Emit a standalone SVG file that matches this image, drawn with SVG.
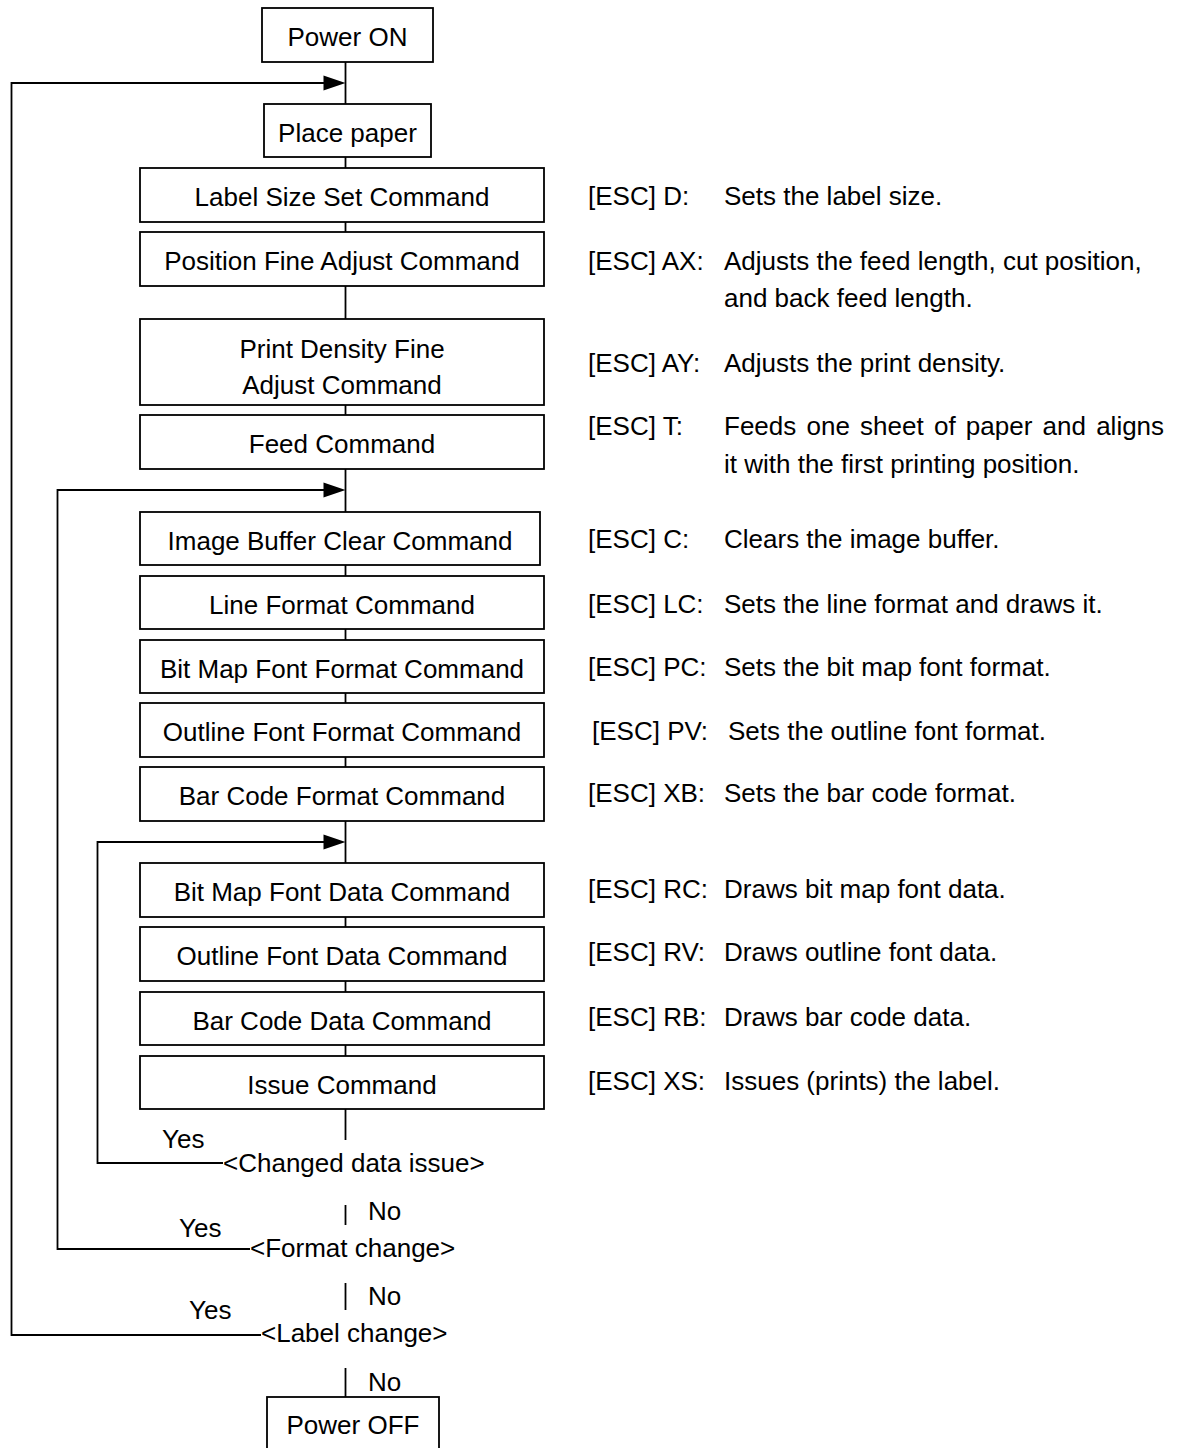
<svg xmlns="http://www.w3.org/2000/svg" width="1178" height="1448" viewBox="0 0 1178 1448">
  <style>
    .box { fill: #ffffff; stroke: #000000; stroke-width: 1.8; }
    .line { fill: none; stroke: #000000; stroke-width: 1.8; }
    .head { fill: #000000; stroke: none; }
    text { font-family: "Liberation Sans", Arial, sans-serif; font-size: 26px; fill: #000000; }
    .c { text-anchor: middle; }
  </style>
  <defs>
    <!-- arrowhead pointing right, tip at origin -->
    <path id="arrowhead" d="M0,0 L-22,-7.5 L-22,7.5 Z" class="head"/>
  </defs>

  <rect width="1178" height="1448" fill="#ffffff"/>

  <!-- connectors -->
  <g id="connectors">
    <!-- main flow spine -->
    <line class="line" x1="345.5" y1="62" x2="345.5" y2="104"/>
    <line class="line" x1="345.5" y1="157" x2="345.5" y2="168"/>
    <line class="line" x1="345.5" y1="222" x2="345.5" y2="232"/>
    <line class="line" x1="345.5" y1="286" x2="345.5" y2="319"/>
    <line class="line" x1="345.5" y1="405" x2="345.5" y2="415"/>
    <line class="line" x1="345.5" y1="469" x2="345.5" y2="512"/>
    <line class="line" x1="345.5" y1="565" x2="345.5" y2="576"/>
    <line class="line" x1="345.5" y1="629" x2="345.5" y2="640"/>
    <line class="line" x1="345.5" y1="693" x2="345.5" y2="703"/>
    <line class="line" x1="345.5" y1="757" x2="345.5" y2="767"/>
    <line class="line" x1="345.5" y1="821" x2="345.5" y2="863"/>
    <line class="line" x1="345.5" y1="917" x2="345.5" y2="927"/>
    <line class="line" x1="345.5" y1="981" x2="345.5" y2="992"/>
    <line class="line" x1="345.5" y1="1045" x2="345.5" y2="1056"/>
    <line class="line" x1="345.5" y1="1109" x2="345.5" y2="1140"/>
    <line class="line" x1="345.5" y1="1205" x2="345.5" y2="1225"/>
    <line class="line" x1="345.5" y1="1283" x2="345.5" y2="1310"/>
    <line class="line" x1="345.5" y1="1368" x2="345.5" y2="1397"/>

    <!-- label change loop -->
    <polyline class="line" points="261,1335 11.5,1335 11.5,83 330,83"/>
    <use href="#arrowhead" x="345.5" y="83"/>
    <!-- format change loop -->
    <polyline class="line" points="250,1249 57.5,1249 57.5,490 330,490"/>
    <use href="#arrowhead" x="345.5" y="490"/>
    <!-- changed data issue loop -->
    <polyline class="line" points="223,1163 97.5,1163 97.5,842 330,842"/>
    <use href="#arrowhead" x="345.5" y="842"/>
  </g>

  <!-- flow nodes -->
  <g id="power-on">
    <rect class="box" x="262" y="8" width="171" height="54"/>
    <text class="c" x="347.5" y="46">Power ON</text>
  </g>
  <g id="place-paper">
    <rect class="box" x="264" y="104" width="167" height="53"/>
    <text class="c" x="347.5" y="142">Place paper</text>
  </g>
  <g id="label-size">
    <rect class="box" x="140" y="168" width="404" height="54"/>
    <text class="c" x="342" y="206">Label Size Set Command</text>
  </g>
  <g id="position-adjust">
    <rect class="box" x="140" y="232" width="404" height="54"/>
    <text class="c" x="342" y="270">Position Fine Adjust Command</text>
  </g>
  <g id="density-adjust">
    <rect class="box" x="140" y="319" width="404" height="86"/>
    <text class="c" x="342" y="358">Print Density Fine</text>
    <text class="c" x="342" y="394">Adjust Command</text>
  </g>
  <g id="feed">
    <rect class="box" x="140" y="415" width="404" height="54"/>
    <text class="c" x="342" y="453">Feed Command</text>
  </g>
  <g id="buffer-clear">
    <rect class="box" x="140" y="512" width="400" height="53"/>
    <text class="c" x="340" y="550">Image Buffer Clear Command</text>
  </g>
  <g id="line-format">
    <rect class="box" x="140" y="576" width="404" height="53"/>
    <text class="c" x="342" y="614">Line Format Command</text>
  </g>
  <g id="bitmap-format">
    <rect class="box" x="140" y="640" width="404" height="53"/>
    <text class="c" x="342" y="678">Bit Map Font Format Command</text>
  </g>
  <g id="outline-format">
    <rect class="box" x="140" y="703" width="404" height="54"/>
    <text class="c" x="342" y="741">Outline Font Format Command</text>
  </g>
  <g id="barcode-format">
    <rect class="box" x="140" y="767" width="404" height="54"/>
    <text class="c" x="342" y="805">Bar Code Format Command</text>
  </g>
  <g id="bitmap-data">
    <rect class="box" x="140" y="863" width="404" height="54"/>
    <text class="c" x="342" y="901">Bit Map Font Data Command</text>
  </g>
  <g id="outline-data">
    <rect class="box" x="140" y="927" width="404" height="54"/>
    <text class="c" x="342" y="965">Outline Font Data Command</text>
  </g>
  <g id="barcode-data">
    <rect class="box" x="140" y="992" width="404" height="53"/>
    <text class="c" x="342" y="1030">Bar Code Data Command</text>
  </g>
  <g id="issue">
    <rect class="box" x="140" y="1056" width="404" height="53"/>
    <text class="c" x="342" y="1094">Issue Command</text>
  </g>

  <!-- decisions -->
  <g id="changed-data-issue">
    <text x="162" y="1148">Yes</text>
    <text x="223" y="1172">&lt;Changed data issue&gt;</text>
    <text x="368" y="1220">No</text>
  </g>
  <g id="format-change">
    <text x="179" y="1237">Yes</text>
    <text x="250" y="1257">&lt;Format change&gt;</text>
    <text x="368" y="1305">No</text>
  </g>
  <g id="label-change">
    <text x="189" y="1319">Yes</text>
    <text x="261" y="1342">&lt;Label change&gt;</text>
    <text x="368" y="1391">No</text>
  </g>

  <g id="power-off">
    <rect class="box" x="267" y="1397" width="172" height="70"/>
    <text class="c" x="353" y="1434">Power OFF</text>
  </g>

  <!-- command reference notes -->
  <g id="notes">
    <text x="588" y="205">[ESC] D:</text>
    <text x="724" y="205">Sets the label size.</text>
    <text x="588" y="270">[ESC] AX:</text>
    <text x="724" y="270">Adjusts the feed length, cut position,</text>
    <text x="724" y="307">and back feed length.</text>
    <text x="588" y="372">[ESC] AY:</text>
    <text x="724" y="372">Adjusts the print density.</text>
    <text x="588" y="435">[ESC] T:</text>
    <text x="724" y="435" word-spacing="3">Feeds one sheet of paper and aligns</text>
    <text x="724" y="473">it with the first printing position.</text>
    <text x="588" y="548">[ESC] C:</text>
    <text x="724" y="548">Clears the image buffer.</text>
    <text x="588" y="613">[ESC] LC:</text>
    <text x="724" y="613">Sets the line format and draws it.</text>
    <text x="588" y="676">[ESC] PC:</text>
    <text x="724" y="676">Sets the bit map font format.</text>
    <text x="592" y="740">[ESC] PV:</text>
    <text x="728" y="740">Sets the outline font format.</text>
    <text x="588" y="802">[ESC] XB:</text>
    <text x="724" y="802">Sets the bar code format.</text>
    <text x="588" y="898">[ESC] RC:</text>
    <text x="724" y="898">Draws bit map font data.</text>
    <text x="588" y="961">[ESC] RV:</text>
    <text x="724" y="961">Draws outline font data.</text>
    <text x="588" y="1026">[ESC] RB:</text>
    <text x="724" y="1026">Draws bar code data.</text>
    <text x="588" y="1090">[ESC] XS:</text>
    <text x="724" y="1090">Issues (prints) the label.</text>
  </g>
</svg>
